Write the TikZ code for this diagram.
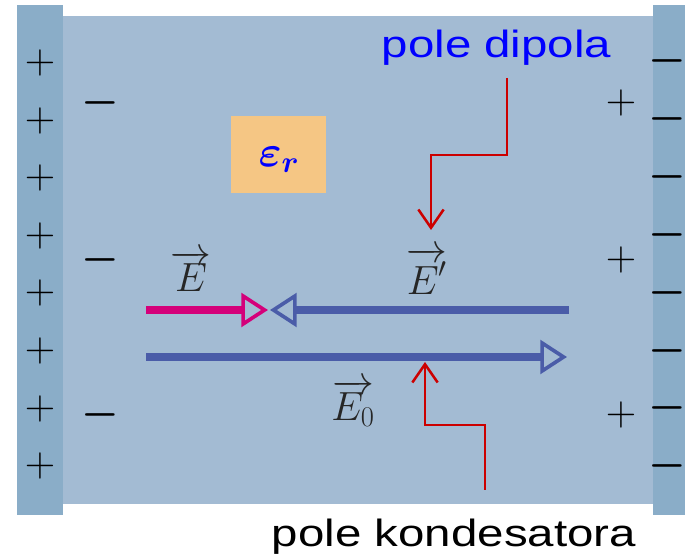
\RequirePackage{fix-cm}
\documentclass[tikz,border=0pt]{standalone}
\usepackage[no-math]{fontspec}
\setmainfont{Liberation Sans}
\usepackage{bm}
\usetikzlibrary{arrows.meta}
\definecolor{dielblue}{HTML}{A3BBD3}
\definecolor{plateblue}{HTML}{8AADC8}
\definecolor{fieldmag}{HTML}{D4007A}
\definecolor{fieldblue}{HTML}{4A5CA8}
\definecolor{leadred}{HTML}{CC0000}
\definecolor{boxorange}{HTML}{F5C684}
\tikzset{
  charge/.style={font=\fontsize{30}{34}\selectfont, inner sep=0pt},
  field/.style={line width=5.7pt, -{Triangle[open,length=19pt,width=24pt,line width=2.6pt]}},
  leader/.style={leadred, line width=1.8pt, -{Straight Barb[length=13pt,width=18pt]}},
  veclab/.style={font=\fontsize{29}{33}\selectfont, text=black!85, inner sep=0pt},
  caption/.style={font=\fontsize{27}{30}\selectfont, anchor=base}
}
\begin{document}
\begin{tikzpicture}[x=0.025cm,y=-0.025cm]
  \useasboundingbox (0,0) rectangle (685,556);
  % dielectric and plates
  \fill[dielblue] (63,16) rectangle (653,504);
  \fill[plateblue] (17,5) rectangle (63,515);
  \fill[plateblue] (653,5) rectangle (685,515);
  % plate charges
  \foreach \k in {0,...,7} {
    \node[charge] (lp\k) at (40,63+57.6*\k) {$+$};
    \node[charge] (rm\k) at (667.5,61+57.9*\k) {$\bm{-}$};
  }
  % bound charges of the dielectric
  \foreach \y/\lab in {103/a, 260/b, 415/c} {
    \node[charge] (dm\lab) at (100,\y) {$\bm{-}$};
    \node[charge] (dp\lab) at (621,\y) {$+$};
  }
  \node[fill=boxorange, minimum width=67.6pt, minimum height=54.8pt, inner sep=0pt] (epsbox) at (278.5,154.5) {};
  \node[font=\fontsize{31}{34}\selectfont, inner sep=0pt] (epslab) at (279,160) {\color{blue}$\bm{\varepsilon_r}$};
  % fields
  \coordinate (Estart) at (146,310);
  \coordinate (Etip) at (268,310);
  \coordinate (Epstart) at (569,310);
  \coordinate (Eptip) at (270,310);
  \coordinate (Ezstart) at (146,357);
  \coordinate (Eztip) at (567,357);
  \draw[field, fieldmag] (Estart) -- (Etip);
  \draw[field, fieldblue] (Epstart) -- (Eptip);
  \draw[field, fieldblue] (Ezstart) -- (Eztip);
  \node[veclab] (Elab) at (191,271) {$\overrightarrow{E}$};
  \node[veclab] (Eplab) at (427,271) {$\overrightarrow{E'}$};
  \node[veclab] (Ezlab) at (353,403) {$\overrightarrow{E_0}$};
  % leaders
  \node[caption, text=blue] (dipola) at (496.5,58) {\scalebox{1.25}[1]{pole dipola}};
  \node[caption] (kondens) at (454,547) {\scalebox{1.25}[1]{pole kondesatora}};
  \coordinate (dipstart) at (507,78);
  \coordinate (dipend) at (431,230);
  \coordinate (kondstart) at (485,490);
  \coordinate (kondend) at (425,362);
  \draw[leader] (dipstart) -- ++(0,77) -| (dipend);
  \draw[leader] (kondstart) -- ++(0,-65) -| (kondend);
\end{tikzpicture}
\end{document}
